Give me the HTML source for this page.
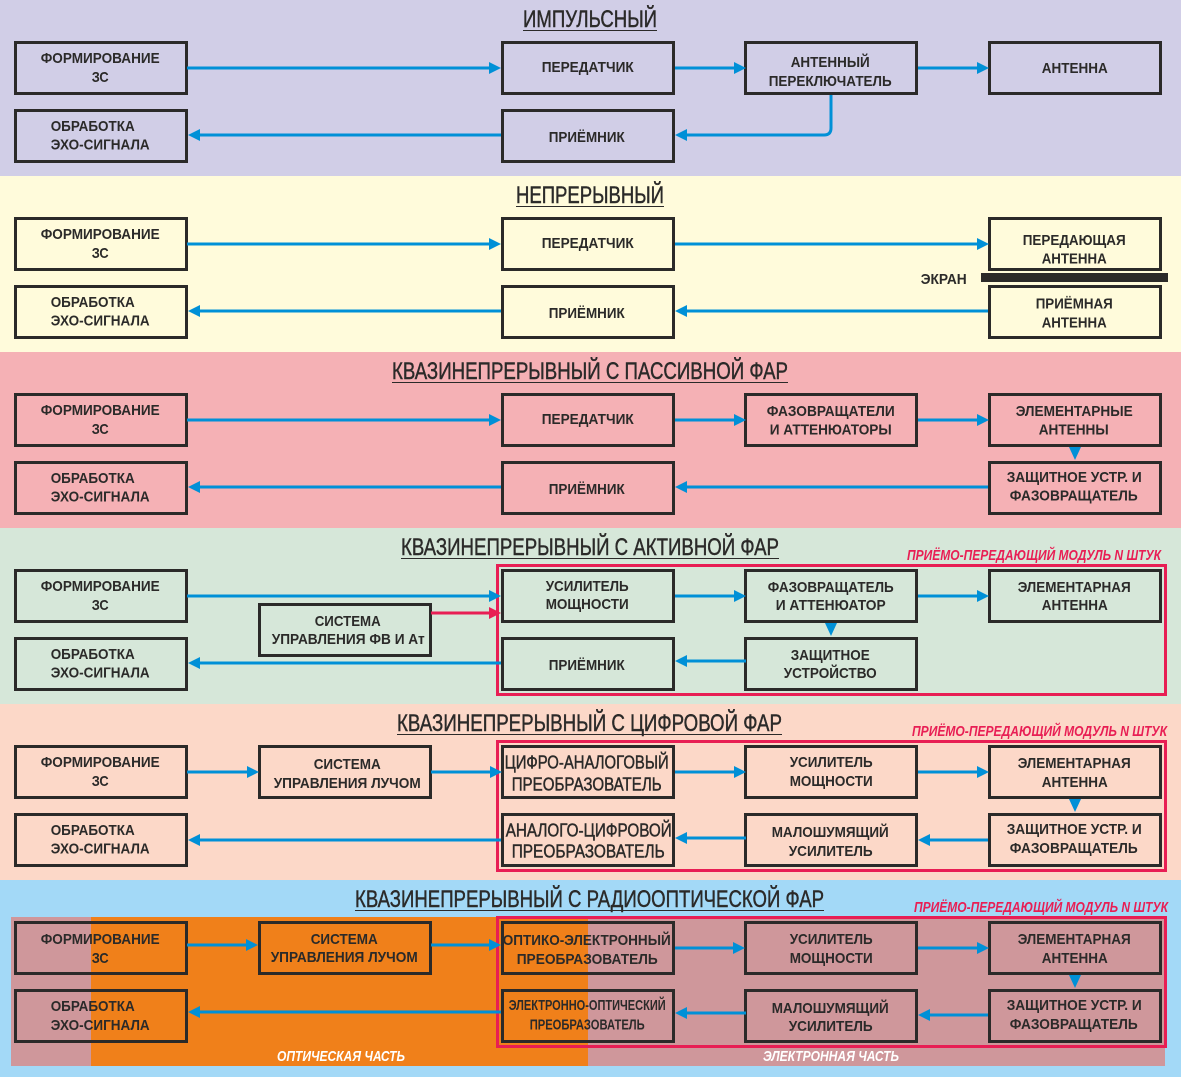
<!DOCTYPE html>
<html lang="ru"><head><meta charset="utf-8"><title>Схема</title>
<style>
html,body{margin:0;padding:0;background:#fff}
svg{display:block}
text{font-family:"Liberation Sans",sans-serif;fill:#2b2a29}
.t text{font-size:15px;font-weight:bold}
.b rect{fill:none;stroke:#2b2a29;stroke-width:3}
.h{font-size:24px;font-weight:normal;stroke:#2b2a29;stroke-width:.45}
.r{font-size:15px;font-weight:bold;font-style:italic;fill:#e81e54}
.w{font-size:15px;font-weight:bold;font-style:italic;fill:#fff}
.a line,.a path{stroke:#0090d7;stroke-width:3;fill:none}
.a polygon{fill:#0090d7}
</style></head><body>
<svg xmlns="http://www.w3.org/2000/svg" width="1181" height="1077" viewBox="0 0 1181 1077">
<rect x="0" y="0" width="1181" height="176" fill="#d1cee7"/>
<rect x="0" y="176" width="1181" height="176" fill="#fffbdb"/>
<rect x="0" y="352" width="1181" height="176" fill="#f5b1b5"/>
<rect x="0" y="528" width="1181" height="176" fill="#d6e7d9"/>
<rect x="0" y="704" width="1181" height="176" fill="#fcd8c8"/>
<rect x="0" y="880" width="1181" height="197" fill="#a3d9f7"/>
<rect x="11" y="917" width="1154" height="149" fill="#cf979b"/>
<rect x="91" y="917" width="497" height="149" fill="#f0801a"/>

<!-- Titles -->
<text class="h" x="523" y="27" textLength="134" lengthAdjust="spacingAndGlyphs">ИМПУЛЬСНЫЙ</text>
<line x1="523" y1="30.5" x2="657" y2="30.5" stroke="#2b2a29"/>
<text class="h" x="516" y="203" textLength="148" lengthAdjust="spacingAndGlyphs">НЕПРЕРЫВНЫЙ</text>
<line x1="516" y1="206.5" x2="664" y2="206.5" stroke="#2b2a29"/>
<text class="h" x="392" y="379" textLength="396" lengthAdjust="spacingAndGlyphs">КВАЗИНЕПРЕРЫВНЫЙ С ПАССИВНОЙ ФАР</text>
<line x1="392" y1="382.5" x2="788" y2="382.5" stroke="#2b2a29"/>
<text class="h" x="401" y="555" textLength="378" lengthAdjust="spacingAndGlyphs">КВАЗИНЕПРЕРЫВНЫЙ С АКТИВНОЙ ФАР</text>
<line x1="401" y1="558.5" x2="779" y2="558.5" stroke="#2b2a29"/>
<text class="h" x="397" y="731" textLength="385" lengthAdjust="spacingAndGlyphs">КВАЗИНЕПРЕРЫВНЫЙ С ЦИФРОВОЙ ФАР</text>
<line x1="397" y1="734.5" x2="782" y2="734.5" stroke="#2b2a29"/>
<text class="h" x="355" y="907" textLength="469" lengthAdjust="spacingAndGlyphs">КВАЗИНЕПРЕРЫВНЫЙ С РАДИООПТИЧЕСКОЙ ФАР</text>
<line x1="355" y1="910.5" x2="824" y2="910.5" stroke="#2b2a29"/>

<!-- Red module frames -->
<g fill="none" stroke="#e81e54" stroke-width="3">
<rect x="497.5" y="565.5" width="668" height="129"/>
<rect x="497.5" y="741.5" width="668" height="129"/>
<rect x="497.5" y="917.5" width="668" height="129"/>
</g>
<text class="r" x="907" y="560" textLength="254" lengthAdjust="spacingAndGlyphs">ПРИЁМО-ПЕРЕДАЮЩИЙ МОДУЛЬ N ШТУК</text>
<text class="r" x="912" y="736" textLength="255" lengthAdjust="spacingAndGlyphs">ПРИЁМО-ПЕРЕДАЮЩИЙ МОДУЛЬ N ШТУК</text>
<text class="r" x="914" y="912" textLength="254" lengthAdjust="spacingAndGlyphs">ПРИЁМО-ПЕРЕДАЮЩИЙ МОДУЛЬ N ШТУК</text>
<text class="w" x="277" y="1061" textLength="128" lengthAdjust="spacingAndGlyphs">ОПТИЧЕСКАЯ ЧАСТЬ</text>
<text class="w" x="763" y="1061" textLength="136" lengthAdjust="spacingAndGlyphs">ЭЛЕКТРОННАЯ ЧАСТЬ</text>

<!-- Boxes -->
<g class="b">
<rect x="15.5" y="42.5" width="171" height="51"/><rect x="15.5" y="110.5" width="171" height="51"/>
<rect x="502.5" y="42.5" width="171" height="51"/><rect x="502.5" y="110.5" width="171" height="51"/>
<rect x="745.5" y="42.5" width="171" height="51"/><rect x="989.5" y="42.5" width="171" height="51"/>

<rect x="15.5" y="218.5" width="171" height="51"/><rect x="15.5" y="286.5" width="171" height="51"/>
<rect x="502.5" y="218.5" width="171" height="51"/><rect x="502.5" y="286.5" width="171" height="51"/>
<rect x="989.5" y="218.5" width="171" height="51"/><rect x="989.5" y="286.5" width="171" height="51"/>

<rect x="15.5" y="394.5" width="171" height="51"/><rect x="15.5" y="462.5" width="171" height="51"/>
<rect x="502.5" y="394.5" width="171" height="51"/><rect x="502.5" y="462.5" width="171" height="51"/>
<rect x="745.5" y="394.5" width="171" height="51"/>
<rect x="989.5" y="394.5" width="171" height="51"/><rect x="989.5" y="462.5" width="171" height="51"/>

<rect x="15.5" y="570.5" width="171" height="51"/><rect x="15.5" y="638.5" width="171" height="51"/>
<rect x="259.5" y="604.5" width="171" height="51"/>
<rect x="502.5" y="570.5" width="171" height="51"/><rect x="502.5" y="638.5" width="171" height="51"/>
<rect x="745.5" y="570.5" width="171" height="51"/><rect x="745.5" y="638.5" width="171" height="51"/>
<rect x="989.5" y="570.5" width="171" height="51"/>

<rect x="15.5" y="746.5" width="171" height="51"/><rect x="15.5" y="814.5" width="171" height="51"/>
<rect x="259.5" y="746.5" width="171" height="51"/>
<rect x="502.5" y="746.5" width="171" height="51"/><rect x="502.5" y="814.5" width="171" height="51"/>
<rect x="745.5" y="746.5" width="171" height="51"/><rect x="745.5" y="814.5" width="171" height="51"/>
<rect x="989.5" y="746.5" width="171" height="51"/><rect x="989.5" y="814.5" width="171" height="51"/>

<rect x="15.5" y="922.5" width="171" height="51"/><rect x="15.5" y="990.5" width="171" height="51"/>
<rect x="259.5" y="922.5" width="171" height="51"/>
<rect x="502.5" y="922.5" width="171" height="51"/><rect x="502.5" y="990.5" width="171" height="51"/>
<rect x="745.5" y="922.5" width="171" height="51"/><rect x="745.5" y="990.5" width="171" height="51"/>
<rect x="989.5" y="922.5" width="171" height="51"/><rect x="989.5" y="990.5" width="171" height="51"/>
</g>
<rect x="981" y="273" width="187" height="9" fill="#2b2a29"/>

<!-- Blue connectors -->
<g class="a">
<line x1="187" y1="68" x2="490" y2="68"/><polygon points="489,62 501,68 489,74"/>
<line x1="675" y1="68" x2="735" y2="68"/><polygon points="734,62 746,68 734,74"/>
<line x1="918" y1="68" x2="978" y2="68"/><polygon points="977,62 989,68 977,74"/>
<line x1="501" y1="135" x2="198" y2="135"/><polygon points="200,129 188,135 200,141"/>
<path d="M831 95V128Q831 135 824 135H685"/><polygon points="687,129 675,135 687,141"/>

<line x1="187" y1="244" x2="490" y2="244"/><polygon points="489,238 501,244 489,250"/>
<line x1="675" y1="244" x2="978" y2="244"/><polygon points="977,238 989,244 977,250"/>
<line x1="501" y1="311" x2="198" y2="311"/><polygon points="200,305 188,311 200,317"/>
<line x1="988" y1="311" x2="685" y2="311"/><polygon points="687,305 675,311 687,317"/>

<line x1="187" y1="420" x2="490" y2="420"/><polygon points="489,414 501,420 489,426"/>
<line x1="675" y1="420" x2="735" y2="420"/><polygon points="734,414 746,420 734,426"/>
<line x1="918" y1="420" x2="978" y2="420"/><polygon points="977,414 989,420 977,426"/>
<line x1="501" y1="487" x2="198" y2="487"/><polygon points="200,481 188,487 200,493"/>
<line x1="988" y1="487" x2="685" y2="487"/><polygon points="687,481 675,487 687,493"/>
<polygon points="1069,447 1081,447 1075,460"/>

<line x1="187" y1="596" x2="490" y2="596"/><polygon points="489,590 501,596 489,602"/>
<line x1="675" y1="596" x2="735" y2="596"/><polygon points="734,590 746,596 734,602"/>
<line x1="918" y1="596" x2="978" y2="596"/><polygon points="977,590 989,596 977,602"/>
<line x1="501" y1="663" x2="198" y2="663"/><polygon points="200,657 188,663 200,669"/>
<line x1="746" y1="661" x2="685" y2="661"/><polygon points="687,655 675,661 687,667"/>
<polygon points="825,623 837,623 831,636"/>

<line x1="187" y1="772" x2="248" y2="772"/><polygon points="247,766 259,772 247,778"/>
<line x1="431" y1="772" x2="491" y2="772"/><polygon points="490,766 502,772 490,778"/>
<line x1="675" y1="772" x2="735" y2="772"/><polygon points="734,766 746,772 734,778"/>
<line x1="918" y1="772" x2="978" y2="772"/><polygon points="977,766 989,772 977,778"/>
<line x1="501" y1="840" x2="198" y2="840"/><polygon points="200,834 188,840 200,846"/>
<line x1="746" y1="838" x2="685" y2="838"/><polygon points="687,832 675,838 687,844"/>
<line x1="988" y1="840" x2="929" y2="840"/><polygon points="930,834 918,840 930,846"/>
<polygon points="1069,799 1081,799 1075,812"/>

<line x1="187" y1="945" x2="248" y2="945"/><polygon points="246,939 258,945 246,951"/>
<line x1="431" y1="945" x2="491" y2="945"/><polygon points="489,939 501,945 489,951"/>
<line x1="675" y1="948" x2="735" y2="948"/><polygon points="733,942 745,948 733,954"/>
<line x1="918" y1="948" x2="978" y2="948"/><polygon points="977,942 989,948 977,954"/>
<line x1="501" y1="1012" x2="198" y2="1012"/><polygon points="200,1006 188,1012 200,1018"/>
<line x1="746" y1="1013" x2="685" y2="1013"/><polygon points="687,1007 675,1013 687,1019"/>
<line x1="988" y1="1015" x2="929" y2="1015"/><polygon points="930,1009 918,1015 930,1021"/>
<polygon points="1069,975 1081,975 1075,988"/>
</g>
<!-- Red connector -->
<line x1="431" y1="613" x2="490" y2="613" stroke="#e81e54" stroke-width="3"/>
<polygon points="489,607 501,613 489,619" fill="#e81e54"/>

<!-- Box labels -->
<g class="t" transform="translate(-0.3,-0.6)">
<text x="41" y="63.5" textLength="119" lengthAdjust="spacingAndGlyphs">ФОРМИРОВАНИЕ</text><text x="92" y="82.5" textLength="17" lengthAdjust="spacingAndGlyphs">ЗС</text>
<text x="51" y="131.5" textLength="84" lengthAdjust="spacingAndGlyphs">ОБРАБОТКА</text><text x="51" y="150" textLength="99" lengthAdjust="spacingAndGlyphs">ЭХО-СИГНАЛА</text>
<text x="542" y="72.5" textLength="92" lengthAdjust="spacingAndGlyphs">ПЕРЕДАТЧИК</text>
<text x="549" y="142.5" textLength="76" lengthAdjust="spacingAndGlyphs">ПРИЁМНИК</text>
<text x="791" y="67.5" textLength="79" lengthAdjust="spacingAndGlyphs">АНТЕННЫЙ</text><text x="769" y="86.5" textLength="123" lengthAdjust="spacingAndGlyphs">ПЕРЕКЛЮЧАТЕЛЬ</text>
<text x="1042" y="73.5" textLength="66" lengthAdjust="spacingAndGlyphs">АНТЕННА</text>

<text x="41" y="239.5" textLength="119" lengthAdjust="spacingAndGlyphs">ФОРМИРОВАНИЕ</text><text x="92" y="258.5" textLength="17" lengthAdjust="spacingAndGlyphs">ЗС</text>
<text x="51" y="307.5" textLength="84" lengthAdjust="spacingAndGlyphs">ОБРАБОТКА</text><text x="51" y="326" textLength="99" lengthAdjust="spacingAndGlyphs">ЭХО-СИГНАЛА</text>
<text x="542" y="248.5" textLength="92" lengthAdjust="spacingAndGlyphs">ПЕРЕДАТЧИК</text>
<text x="549" y="318.5" textLength="76" lengthAdjust="spacingAndGlyphs">ПРИЁМНИК</text>
<text x="1023" y="245.5" textLength="103" lengthAdjust="spacingAndGlyphs">ПЕРЕДАЮЩАЯ</text><text x="1042" y="264" textLength="65" lengthAdjust="spacingAndGlyphs">АНТЕННА</text>
<text x="1036" y="309" textLength="77" lengthAdjust="spacingAndGlyphs">ПРИЁМНАЯ</text><text x="1042" y="328" textLength="65" lengthAdjust="spacingAndGlyphs">АНТЕННА</text>
<text x="921" y="284.5" textLength="46" lengthAdjust="spacingAndGlyphs">ЭКРАН</text>

<text x="41" y="415.5" textLength="119" lengthAdjust="spacingAndGlyphs">ФОРМИРОВАНИЕ</text><text x="92" y="434.5" textLength="17" lengthAdjust="spacingAndGlyphs">ЗС</text>
<text x="51" y="483.5" textLength="84" lengthAdjust="spacingAndGlyphs">ОБРАБОТКА</text><text x="51" y="502" textLength="99" lengthAdjust="spacingAndGlyphs">ЭХО-СИГНАЛА</text>
<text x="542" y="424.5" textLength="92" lengthAdjust="spacingAndGlyphs">ПЕРЕДАТЧИК</text>
<text x="549" y="494.5" textLength="76" lengthAdjust="spacingAndGlyphs">ПРИЁМНИК</text>
<text x="767" y="416.5" textLength="128" lengthAdjust="spacingAndGlyphs">ФАЗОВРАЩАТЕЛИ</text><text x="770" y="435" textLength="122" lengthAdjust="spacingAndGlyphs">И АТТЕНЮАТОРЫ</text>
<text x="1016" y="416.5" textLength="117" lengthAdjust="spacingAndGlyphs">ЭЛЕМЕНТАРНЫЕ</text><text x="1039" y="435" textLength="70" lengthAdjust="spacingAndGlyphs">АНТЕННЫ</text>
<text x="1007" y="482.5" textLength="135" lengthAdjust="spacingAndGlyphs">ЗАЩИТНОЕ УСТР. И</text><text x="1010" y="501" textLength="128" lengthAdjust="spacingAndGlyphs">ФАЗОВРАЩАТЕЛЬ</text>

<text x="41" y="591.5" textLength="119" lengthAdjust="spacingAndGlyphs">ФОРМИРОВАНИЕ</text><text x="92" y="610.5" textLength="17" lengthAdjust="spacingAndGlyphs">ЗС</text>
<text x="51" y="659.5" textLength="84" lengthAdjust="spacingAndGlyphs">ОБРАБОТКА</text><text x="51" y="678" textLength="99" lengthAdjust="spacingAndGlyphs">ЭХО-СИГНАЛА</text>
<text x="315" y="626.5" textLength="66" lengthAdjust="spacingAndGlyphs">СИСТЕМА</text><text x="272" y="644.5" textLength="153" lengthAdjust="spacingAndGlyphs">УПРАВЛЕНИЯ ФВ И Ат</text>
<text x="546" y="591.5" textLength="83" lengthAdjust="spacingAndGlyphs">УСИЛИТЕЛЬ</text><text x="546" y="609.5" textLength="83" lengthAdjust="spacingAndGlyphs">МОЩНОСТИ</text>
<text x="549" y="670.5" textLength="76" lengthAdjust="spacingAndGlyphs">ПРИЁМНИК</text>
<text x="768" y="592.5" textLength="126" lengthAdjust="spacingAndGlyphs">ФАЗОВРАЩАТЕЛЬ</text><text x="776" y="610.5" textLength="110" lengthAdjust="spacingAndGlyphs">И АТТЕНЮАТОР</text>
<text x="1018" y="592.5" textLength="113" lengthAdjust="spacingAndGlyphs">ЭЛЕМЕНТАРНАЯ</text><text x="1042" y="610.5" textLength="66" lengthAdjust="spacingAndGlyphs">АНТЕННА</text>
<text x="791" y="660.5" textLength="79" lengthAdjust="spacingAndGlyphs">ЗАЩИТНОЕ</text><text x="784" y="678.5" textLength="93" lengthAdjust="spacingAndGlyphs">УСТРОЙСТВО</text>

<text x="41" y="767.5" textLength="119" lengthAdjust="spacingAndGlyphs">ФОРМИРОВАНИЕ</text><text x="92" y="786.5" textLength="17" lengthAdjust="spacingAndGlyphs">ЗС</text>
<text x="51" y="835.5" textLength="84" lengthAdjust="spacingAndGlyphs">ОБРАБОТКА</text><text x="51" y="854" textLength="99" lengthAdjust="spacingAndGlyphs">ЭХО-СИГНАЛА</text>
<text x="314" y="769.5" textLength="67" lengthAdjust="spacingAndGlyphs">СИСТЕМА</text><text x="274" y="788.5" textLength="147" lengthAdjust="spacingAndGlyphs">УПРАВЛЕНИЯ ЛУЧОМ</text>
<text x="505" y="769" textLength="164" lengthAdjust="spacingAndGlyphs" style="font-size:18px;font-weight:normal;stroke:#2b2a29;stroke-width:.45">ЦИФРО-АНАЛОГОВЫЙ</text><text x="512" y="791" textLength="150" lengthAdjust="spacingAndGlyphs" style="font-size:18px;font-weight:normal;stroke:#2b2a29;stroke-width:.45">ПРЕОБРАЗОВАТЕЛЬ</text>
<text x="506" y="837" textLength="166" lengthAdjust="spacingAndGlyphs" style="font-size:18px;font-weight:normal;stroke:#2b2a29;stroke-width:.45">АНАЛОГО-ЦИФРОВОЙ</text><text x="512" y="858" textLength="153" lengthAdjust="spacingAndGlyphs" style="font-size:18px;font-weight:normal;stroke:#2b2a29;stroke-width:.45">ПРЕОБРАЗОВАТЕЛЬ</text>
<text x="790" y="767.5" textLength="83" lengthAdjust="spacingAndGlyphs">УСИЛИТЕЛЬ</text><text x="790" y="786.5" textLength="83" lengthAdjust="spacingAndGlyphs">МОЩНОСТИ</text>
<text x="1018" y="768.5" textLength="113" lengthAdjust="spacingAndGlyphs">ЭЛЕМЕНТАРНАЯ</text><text x="1042" y="787.5" textLength="66" lengthAdjust="spacingAndGlyphs">АНТЕННА</text>
<text x="772" y="837.5" textLength="117" lengthAdjust="spacingAndGlyphs">МАЛОШУМЯЩИЙ</text><text x="789" y="856.5" textLength="84" lengthAdjust="spacingAndGlyphs">УСИЛИТЕЛЬ</text>
<text x="1007" y="834.5" textLength="135" lengthAdjust="spacingAndGlyphs">ЗАЩИТНОЕ УСТР. И</text><text x="1010" y="853.5" textLength="128" lengthAdjust="spacingAndGlyphs">ФАЗОВРАЩАТЕЛЬ</text>

<text x="41" y="944.5" textLength="119" lengthAdjust="spacingAndGlyphs">ФОРМИРОВАНИЕ</text><text x="92" y="963.5" textLength="17" lengthAdjust="spacingAndGlyphs">ЗС</text>
<text x="51" y="1011.5" textLength="84" lengthAdjust="spacingAndGlyphs">ОБРАБОТКА</text><text x="51" y="1030.5" textLength="99" lengthAdjust="spacingAndGlyphs">ЭХО-СИГНАЛА</text>
<text x="311" y="944.5" textLength="67" lengthAdjust="spacingAndGlyphs">СИСТЕМА</text><text x="271" y="962.5" textLength="147" lengthAdjust="spacingAndGlyphs">УПРАВЛЕНИЯ ЛУЧОМ</text>
<text x="503" y="945.5" textLength="168" lengthAdjust="spacingAndGlyphs">ОПТИКО-ЭЛЕКТРОННЫЙ</text><text x="517" y="964.5" textLength="141" lengthAdjust="spacingAndGlyphs">ПРЕОБРАЗОВАТЕЛЬ</text>
<text x="509" y="1010.5" textLength="157" lengthAdjust="spacingAndGlyphs">ЭЛЕКТРОННО-ОПТИЧЕСКИЙ</text><text x="530" y="1030" textLength="115" lengthAdjust="spacingAndGlyphs">ПРЕОБРАЗОВАТЕЛЬ</text>
<text x="790" y="944.5" textLength="83" lengthAdjust="spacingAndGlyphs">УСИЛИТЕЛЬ</text><text x="790" y="963.5" textLength="83" lengthAdjust="spacingAndGlyphs">МОЩНОСТИ</text>
<text x="1018" y="944.5" textLength="113" lengthAdjust="spacingAndGlyphs">ЭЛЕМЕНТАРНАЯ</text><text x="1042" y="963.5" textLength="66" lengthAdjust="spacingAndGlyphs">АНТЕННА</text>
<text x="772" y="1013.5" textLength="117" lengthAdjust="spacingAndGlyphs">МАЛОШУМЯЩИЙ</text><text x="789" y="1031.5" textLength="84" lengthAdjust="spacingAndGlyphs">УСИЛИТЕЛЬ</text>
<text x="1007" y="1010.5" textLength="135" lengthAdjust="spacingAndGlyphs">ЗАЩИТНОЕ УСТР. И</text><text x="1010" y="1029.5" textLength="128" lengthAdjust="spacingAndGlyphs">ФАЗОВРАЩАТЕЛЬ</text>
</g>
</svg>
</body></html>
